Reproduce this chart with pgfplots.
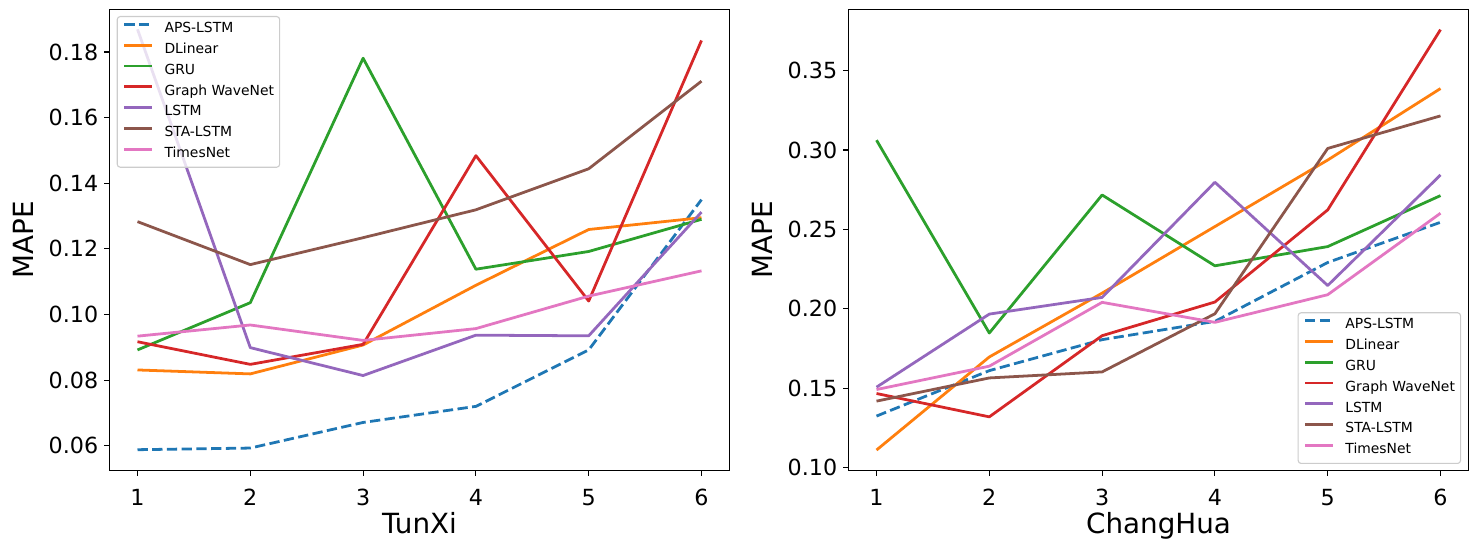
\documentclass[border=0pt]{standalone}
\usepackage{fontspec}
\setmainfont{DejaVu Sans}
\usepackage{pgfplots}
\usepackage{pgfplotstable}
\pgfplotsset{compat=1.18}
\definecolor{c0}{HTML}{1F77B4}
\definecolor{c1}{HTML}{FF7F0E}
\definecolor{c2}{HTML}{2CA02C}
\definecolor{c3}{HTML}{D62728}
\definecolor{c4}{HTML}{9467BD}
\definecolor{c5}{HTML}{8C564B}
\definecolor{c6}{HTML}{E377C2}
\pgfplotstableread{
x aps dlin gru gwn lstm sta tn
1 0.0588 0.0831 0.0892 0.0917 0.1869 0.1283 0.0934
2 0.0593 0.0819 0.1036 0.0848 0.0899 0.1152 0.0968
3 0.0671 0.0907 0.1781 0.0909 0.0814 0.1234 0.0921
4 0.0720 0.1089 0.1138 0.1484 0.0937 0.1319 0.0957
5 0.0892 0.1259 0.1192 0.1041 0.0935 0.1444 0.1056
6 0.1350 0.1295 0.1290 0.1835 0.1312 0.1711 0.1133
}\tunxi
\pgfplotstableread{
x aps dlin gru gwn lstm sta tn
1 0.1325 0.1111 0.3062 0.1467 0.1507 0.1419 0.1492
2 0.1611 0.1697 0.1848 0.1320 0.1967 0.1565 0.1639
3 0.1806 0.2099 0.2717 0.1831 0.2072 0.1603 0.2041
4 0.1921 0.2518 0.2271 0.2043 0.2797 0.1969 0.1915
5 0.2292 0.2937 0.2392 0.2623 0.2147 0.3010 0.2089
6 0.2545 0.3387 0.2713 0.3758 0.2843 0.3215 0.2602
}\changhua
\pgfplotsset{
  mystyle/.style={
    scale only axis, width=620.4bp, height=461.4bp,
    xmin=0.75, xmax=6.25, xtick={1,2,3,4,5,6},
    axis line style={line width=1.1bp, black},
    tick style={line width=1.1bp, black},
    major tick length=4.9bp, tick align=outside,
    xtick pos=lower, ytick pos=left,
    /pgf/number format/assume math mode=true,
    ticklabel style={font=\fontsize{22.22bp}{26bp}\selectfont},
    xticklabel style={anchor=base, inner sep=0pt, yshift=-30bp},
    yticklabel style={anchor=east, inner sep=0pt, xshift=-6bp,
      /pgf/number format/.cd, fixed, fixed zerofill, precision=2},
    every axis x label/.style={at={(axis description cs:0.5,0)}, anchor=base, yshift=-62.6bp, font=\fontsize{27.78bp}{32bp}\selectfont},
    every axis y label/.style={at={(axis description cs:0,0.5)}, xshift=-86bp, rotate=90, anchor=center, font=\fontsize{27.78bp}{32bp}\selectfont},
    ylabel={MAPE},
    legend cell align=left,
    legend image code/.code={\draw[line width=2.78bp, ##1] (0bp,5.1bp) -- (27.8bp,5.1bp);},
    legend style={font=\fontsize{13.89bp}{16bp}\selectfont,
      draw=black!20, line width=1.1bp, rounded corners=3bp,
      fill=white, fill opacity=0.8, text opacity=1,
      inner xsep=5.6bp, inner ysep=6bp, row sep=6.9bp, column sep=11.1bp,
      nodes={inner sep=0pt, text height=10.2bp, text depth=3.7bp}},
  },
  ln/.style={line width=2.78bp, line join=round, #1},
  aps/.style={line width=2.78bp, line join=round, c0, dash pattern=on 10.28bp off 4.44bp},
}
\begin{document}
\begin{tikzpicture}
\useasboundingbox (0,0) rectangle (1478bp,548bp);
\begin{axis}[mystyle, at={(109.3bp,77.3bp)}, anchor=south west,
  ymin=0.0524, ymax=0.1930, ytick={0.06,0.08,0.10,0.12,0.14,0.16,0.18},
  xlabel={TunXi},
  legend style={at={(0,1)}, anchor=north west, xshift=7.4bp, yshift=-6.7bp}]
\addplot[aps] table[x=x,y=aps]{\tunxi};
\addplot[ln=c1] table[x=x,y=dlin]{\tunxi};
\addplot[ln=c2] table[x=x,y=gru]{\tunxi};
\addplot[ln=c3] table[x=x,y=gwn]{\tunxi};
\addplot[ln=c4] table[x=x,y=lstm]{\tunxi};
\addplot[ln=c5] table[x=x,y=sta]{\tunxi};
\addplot[ln=c6] table[x=x,y=tn]{\tunxi};
\legend{APS-LSTM,DLinear,GRU,Graph WaveNet,LSTM,STA-LSTM,TimesNet}
\end{axis}
\begin{axis}[mystyle, at={(848.3bp,77.3bp)}, anchor=south west,
  ymin=0.0981, ymax=0.3886, ytick={0.10,0.15,0.20,0.25,0.30,0.35},
  xlabel={ChangHua},
  legend style={at={(1,0)}, anchor=south east, xshift=-7.6bp, yshift=6.7bp}]
\addplot[aps] table[x=x,y=aps]{\changhua};
\addplot[ln=c1] table[x=x,y=dlin]{\changhua};
\addplot[ln=c2] table[x=x,y=gru]{\changhua};
\addplot[ln=c3] table[x=x,y=gwn]{\changhua};
\addplot[ln=c4] table[x=x,y=lstm]{\changhua};
\addplot[ln=c5] table[x=x,y=sta]{\changhua};
\addplot[ln=c6] table[x=x,y=tn]{\changhua};
\legend{APS-LSTM,DLinear,GRU,Graph WaveNet,LSTM,STA-LSTM,TimesNet}
\end{axis}
\end{tikzpicture}
\end{document}
